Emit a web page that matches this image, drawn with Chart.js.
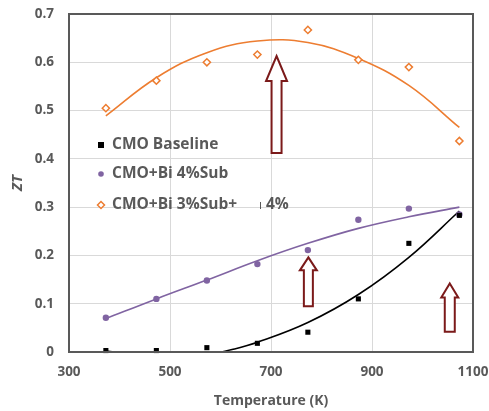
<!DOCTYPE html>
<html><head><meta charset="utf-8">
<script src="https://cdn.jsdelivr.net/npm/chart.js@4/dist/chart.umd.min.js"></script>
<style>html,body{margin:0;padding:0;background:#fff}canvas{display:block}</style>
</head><body>
<canvas id="c" width="489" height="411"></canvas>
<script>
// ---- data ----
const temps = [373, 473, 573, 673, 773, 873, 973, 1073];
const baseline = [0.003, 0.003, 0.009, 0.018, 0.041, 0.110, 0.225, 0.283];
const bi4Sub = [0.071, 0.110, 0.148, 0.182, 0.211, 0.274, 0.297, 0.285];
const bi3Sub = [0.505, 0.562, 0.600, 0.616, 0.667, 0.605, 0.590, 0.437];

// trend lines
const trendTemps = [373, 473, 573, 673, 773, 873, 973, 1073];
const bi3Trend = [0.489, 0.568, 0.620, 0.644, 0.641, 0.608, 0.552, 0.465];
const bi4Trend = [0.069, 0.110, 0.149, 0.189, 0.225, 0.256, 0.280, 0.300];
const baseTrendTemps = [373, 423, 473, 523, 573, 623, 673, 773, 873, 973, 1073];
const baseTrend = [0.002, -0.004, -0.010, -0.012, -0.006, 0.005, 0.020, 0.061, 0.119, 0.196, 0.292];

const legendLabels = ['CMO Baseline', 'CMO+Bi 4%Sub', 'CMO+Bi 3%Sub+', '4%'];
const xTicks = [300, 500, 700, 900, 1100];
const yTicks = [0, 0.1, 0.2, 0.3, 0.4, 0.5, 0.6, 0.7];

// arrows (annotation): tip x, tip y, tail y in data units
const arrowTipX = [711, 774, 1054];
const arrowTipY = [0.613, 0.196, 0.142];
const arrowTailY = [0.412, 0.095, 0.042];

// ---- styles ----
const ORANGE = '#ED7D31', PURPLE = '#8064A2', BLACK = '#000000', GREY = '#595959', ARROW = '#7B1A1A';
const FONT = '"Open Sans", "Liberation Sans", sans-serif';
const arrowStyle = [
  {headLen: 25, headW: 21, shaftW: 10},
  {headLen: 13, headW: 17, shaftW: 9},
  {headLen: 14, headW: 17, shaftW: 10}
];

const pts = (xs, ys) => xs.map((x, i) => ({x: x, y: ys[i]}));

const framePlugin = {
  id: 'frame',
  afterDatasetsDraw(chart) {
    const {ctx, scales: {x, y}} = chart;
    ctx.save();
    arrowTipX.forEach((tx, i) => {
      const s = arrowStyle[i];
      const px = x.getPixelForValue(tx);
      const tip = y.getPixelForValue(arrowTipY[i]);
      const tail = y.getPixelForValue(arrowTailY[i]);
      const hb = tip + s.headLen;
      ctx.beginPath();
      ctx.moveTo(px, tip);
      ctx.lineTo(px + s.headW / 2, hb);
      ctx.lineTo(px + s.shaftW / 2, hb);
      ctx.lineTo(px + s.shaftW / 2, tail);
      ctx.lineTo(px - s.shaftW / 2, tail);
      ctx.lineTo(px - s.shaftW / 2, hb);
      ctx.lineTo(px - s.headW / 2, hb);
      ctx.closePath();
      ctx.fillStyle = '#ffffff';
      ctx.fill();
      ctx.lineWidth = 2;
      ctx.strokeStyle = ARROW;
      ctx.lineJoin = 'miter';
      ctx.stroke();
    });
    ctx.restore();
  },
  afterDraw(chart) {
    const {ctx, chartArea: a} = chart;
    ctx.save();
    ctx.strokeStyle = GREY;
    ctx.lineWidth = 2;
    ctx.strokeRect(a.left, a.top, a.right - a.left, a.bottom - a.top);
    // legend
    const lx = a.left + 32, tx = a.left + 43;
    const ly = [145, 174, 205];
    ctx.font = 'bold 15.5px ' + FONT;
    ctx.textBaseline = 'middle';
    ctx.textAlign = 'left';
    ctx.fillStyle = BLACK;
    ctx.fillRect(lx - 3, ly[0] - 3, 6, 6);
    ctx.fillStyle = PURPLE;
    ctx.beginPath(); ctx.arc(lx, ly[1], 2.8, 0, Math.PI * 2); ctx.fill();
    ctx.strokeStyle = ORANGE; ctx.lineWidth = 1.5;
    ctx.fillStyle = '#fff';
    ctx.beginPath();
    ctx.moveTo(lx, ly[2] - 3.5); ctx.lineTo(lx + 3.5, ly[2]); ctx.lineTo(lx, ly[2] + 3.5); ctx.lineTo(lx - 3.5, ly[2]); ctx.closePath();
    ctx.fill(); ctx.stroke();
    ctx.fillStyle = GREY;
    ctx.fillText(legendLabels[0], tx, ly[0]);
    ctx.fillText(legendLabels[1], tx, ly[1]);
    ctx.fillText(legendLabels[2], tx, ly[2]);
    ctx.fillText(legendLabels[3], a.left + 197, ly[2]);
    ctx.strokeStyle = GREY; ctx.lineWidth = 1;
    ctx.beginPath(); ctx.moveTo(a.left + 191.5, ly[2] - 3); ctx.lineTo(a.left + 191.5, ly[2] + 4); ctx.stroke();
    ctx.restore();
  }
};

new Chart(document.getElementById('c'), {
  type: 'scatter',
  data: {
    datasets: [
      {label: legendLabels[0], data: pts(temps, baseline), pointStyle: 'rect', pointRadius: 3.6, backgroundColor: BLACK, borderColor: BLACK, borderWidth: 0, clip: false},
      {label: legendLabels[1], data: pts(temps, bi4Sub), pointStyle: 'circle', pointRadius: 3.2, backgroundColor: PURPLE, borderColor: PURPLE, borderWidth: 0, clip: false},
      {label: legendLabels[2], data: pts(temps, bi3Sub), pointStyle: 'rectRot', pointRadius: 3.6, backgroundColor: '#fff', borderColor: ORANGE, borderWidth: 1.5, clip: false},
      {label: 'baseline trend', data: pts(baseTrendTemps, baseTrend), showLine: true, pointRadius: 0, borderColor: BLACK, borderWidth: 1.6, tension: 0.4, clip: 0},
      {label: 'bi4 trend', data: pts(trendTemps, bi4Trend), showLine: true, pointRadius: 0, borderColor: PURPLE, borderWidth: 1.6, tension: 0.4},
      {label: 'bi3 trend', data: pts(trendTemps, bi3Trend), showLine: true, pointRadius: 0, borderColor: ORANGE, borderWidth: 1.6, tension: 0.4}
    ]
  },
  options: {
    responsive: false,
    devicePixelRatio: 1,
    animation: false,
    events: [],
    layout: {padding: {left: 0, right: 16, top: 14, bottom: 0}},
    plugins: {legend: {display: false}, tooltip: {enabled: false}},
    scales: {
      x: {
        type: 'linear', min: 300, max: 1100,
        afterBuildTicks: s => { s.ticks = xTicks.map(v => ({value: v})); },
        afterFit: s => { s.height = 59; s.paddingLeft = 0; s.paddingRight = 0; },
        grid: {color: '#d9d9d9', drawTicks: false, lineWidth: 1},
        border: {display: false},
        ticks: {color: GREY, font: {family: FONT, size: 13.5, weight: 'bold'}, padding: 12, callback: v => String(v)},
        title: {display: true, text: 'Temperature (K)', color: GREY, font: {family: FONT, size: 14, weight: 'bold'}, padding: {top: 4, bottom: 2}}
      },
      y: {
        type: 'linear', min: 0, max: 0.7,
        afterBuildTicks: s => { s.ticks = yTicks.map(v => ({value: v})); },
        afterFit: s => { s.width = 69; s.paddingTop = 0; s.paddingBottom = 0; },
        grid: {color: '#d9d9d9', drawTicks: false, lineWidth: 1},
        border: {display: false},
        ticks: {color: GREY, font: {family: FONT, size: 13.5, weight: 'bold'}, padding: 15,
          callback: v => v === 0 ? '0' : v.toFixed(1)},
        title: {display: true, text: 'ZT', color: GREY, font: {family: FONT, size: 15, weight: 'bold', style: 'italic'}, padding: {top: 9, bottom: 0}}
      }
    }
  },
  plugins: [framePlugin]
});
</script>
</body></html>
